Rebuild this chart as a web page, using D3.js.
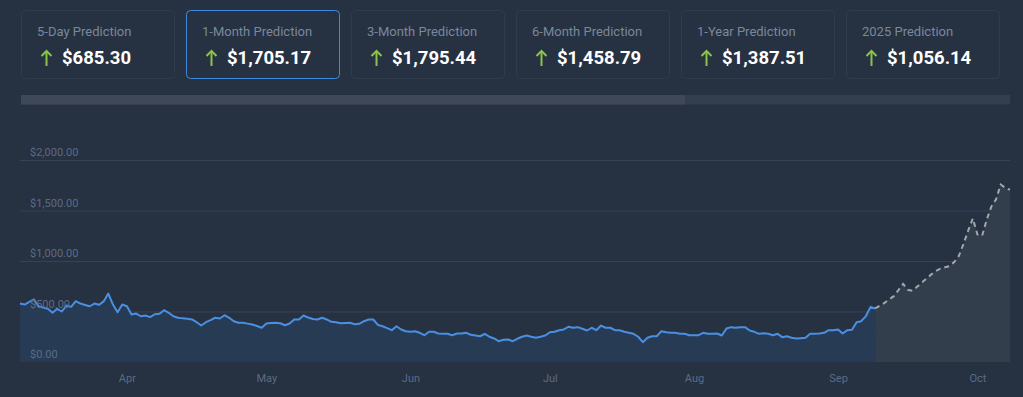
<!DOCTYPE html>
<html><head><meta charset="utf-8">
<script src="https://cdn.jsdelivr.net/npm/d3@7"></script>
<style>
html,body{margin:0;padding:0;background:#263142;overflow:hidden;}
svg{display:block;font-family:Roboto,"Noto Sans",sans-serif;}
</style></head>
<body>
<svg id="c" width="1023" height="397"></svg>
<script>
const cardTitles = ["5-Day Prediction","1-Month Prediction","3-Month Prediction","6-Month Prediction","1-Year Prediction","2025 Prediction"];
const cardValues = [685.30, 1705.17, 1795.44, 1458.79, 1387.51, 1056.14];
const activeCard = "1-Month Prediction";

const historyStart = "2024-03-09";
const historyValues = [579,569,595,619,552,540,527,487,527,500,559,546,602,579,565,552,579,566,600,678,
569,493,569,552,470,480,453,460,444,473,477,513,487,453,438,432,428,421,394,361,
394,415,438,431,463,438,404,388,388,380,371,356,339,381,385,388,384,364,381,421,
421,460,440,425,421,438,421,398,394,384,386,388,374,378,404,421,421,368,354,335,
315,354,322,305,299,305,289,265,299,299,282,280,279,265,282,282,289,270,262,255,
279,250,233,206,220,223,206,230,250,262,250,240,250,262,295,299,315,322,349,339,
345,329,312,339,315,361,339,339,315,315,300,289,279,250,196,240,255,255,305,295,
289,289,279,279,265,265,265,289,279,280,282,262,332,345,339,345,345,312,299,279,
285,279,265,279,246,255,240,233,236,240,279,280,282,289,315,315,322,282,315,320,
394,404,455,546,530];
const forecastValues = [530,558,586,620,652,712,774,715,705,745,785,824,865,899,925,938,949,990,1050,1170,
1300,1421,1262,1250,1411,1540,1610,1757,1724,1705.17];
const yTicks = [0, 500, 1000, 1500, 2000];
const monthTicks = ["2024-04-01","2024-05-01","2024-06-01","2024-07-01","2024-08-01","2024-09-01","2024-10-01"];

const parse = d3.timeParse("%Y-%m-%d");
const start = parse(historyStart);
const hist = historyValues.map((v,i)=>({date:d3.timeDay.offset(start,i), value:v}));
const lastHist = hist[hist.length-1].date;
const fc = forecastValues.map((v,i)=>({date:d3.timeDay.offset(lastHist,i), value:v}));

const svg = d3.select("#c");
svg.append("rect").attr("width",1023).attr("height",397).attr("fill","#263142");

// cards
const cx = d3.scaleBand().domain(cardTitles).range([21,1000]).paddingInner(0.0667).paddingOuter(0);
const fmt = d3.format(",.2f");
const cards = svg.append("g").selectAll("g").data(cardTitles).join("g")
  .attr("transform", d=>`translate(${cx(d)},10)`);
cards.append("rect").attr("x",0.5).attr("y",0.5).attr("width",cx.bandwidth()-1).attr("height",68)
  .attr("rx",4).attr("fill","#263142")
  .attr("stroke", d=> d===activeCard ? "#3f8ae0" : "#303c4e").attr("stroke-width",1);
cards.append("text").attr("x",16).attr("y",25.5).attr("font-size",13).attr("fill","#7b889b").text(d=>d);
const arr = cards.append("g").attr("transform","translate(25.5,0)").attr("stroke","#8cc34b").attr("stroke-width",2).attr("fill","none");
arr.append("line").attr("x1",0).attr("x2",0).attr("y1",41).attr("y2",56);
arr.append("path").attr("d","M-5,46 L0,41 L5,46");
cards.append("text").attr("x",41).attr("y",53.5).attr("font-size",18.5).attr("font-weight",700).attr("fill","#ffffff")
  .text((d,i)=>"$"+fmt(cardValues[i]));

// scrollbar
svg.append("rect").attr("x",21).attr("y",95).attr("width",989).attr("height",9.5).attr("fill","#333e4f");
svg.append("rect").attr("x",21).attr("y",95).attr("width",664).attr("height",9.5).attr("fill","#3e4859");

// scales
const x = d3.scaleTime().domain([start, d3.timeDay.offset(lastHist, forecastValues.length-1)]).range([20,1010]);
const y = d3.scaleLinear().domain([0,2000]).range([362,160]);

// grid
svg.append("g").selectAll("line").data(yTicks.filter(t=>t>0)).join("line")
  .attr("x1",20).attr("x2",1010).attr("y1",d=>y(d)+0.5).attr("y2",d=>y(d)+0.5)
  .attr("stroke","#364356").attr("stroke-width",1);

// areas
const area = d3.area().x(d=>x(d.date)).y0(y(0)).y1(d=>y(d.value));
svg.append("path").datum(hist).attr("d",area).attr("fill","#283b54");
svg.append("path").datum(fc).attr("d",area).attr("fill","#333e4d");

const line = d3.line().x(d=>x(d.date)).y(d=>y(d.value));
svg.append("path").datum(hist).attr("d",line).attr("fill","none").attr("stroke","#4a90e2").attr("stroke-width",2).attr("stroke-linejoin","round");
svg.append("path").datum(fc).attr("d",line).attr("fill","none").attr("stroke","#a3a6aa").attr("stroke-width",2).attr("stroke-dasharray","5,4");

// y labels
const yf = d3.format("$,.2f");
svg.append("g").selectAll("text").data(yTicks).join("text")
  .attr("x",30).attr("y",d=>y(d)-4).attr("font-size",11).attr("fill","#5c6c84").text(d=>yf(d));

// x axis
const xAxis = d3.axisBottom(x).tickValues(monthTicks.map(parse)).tickFormat(d3.timeFormat("%b")).tickSize(0).tickPadding(0);
const gx = svg.append("g").attr("transform","translate(0,374)").call(xAxis);
gx.select(".domain").remove();
gx.selectAll("text").attr("font-size",11).attr("fill","#5c6c84").attr("font-family","Roboto,sans-serif").attr("dy","0.71em");
</script>
</body></html>
